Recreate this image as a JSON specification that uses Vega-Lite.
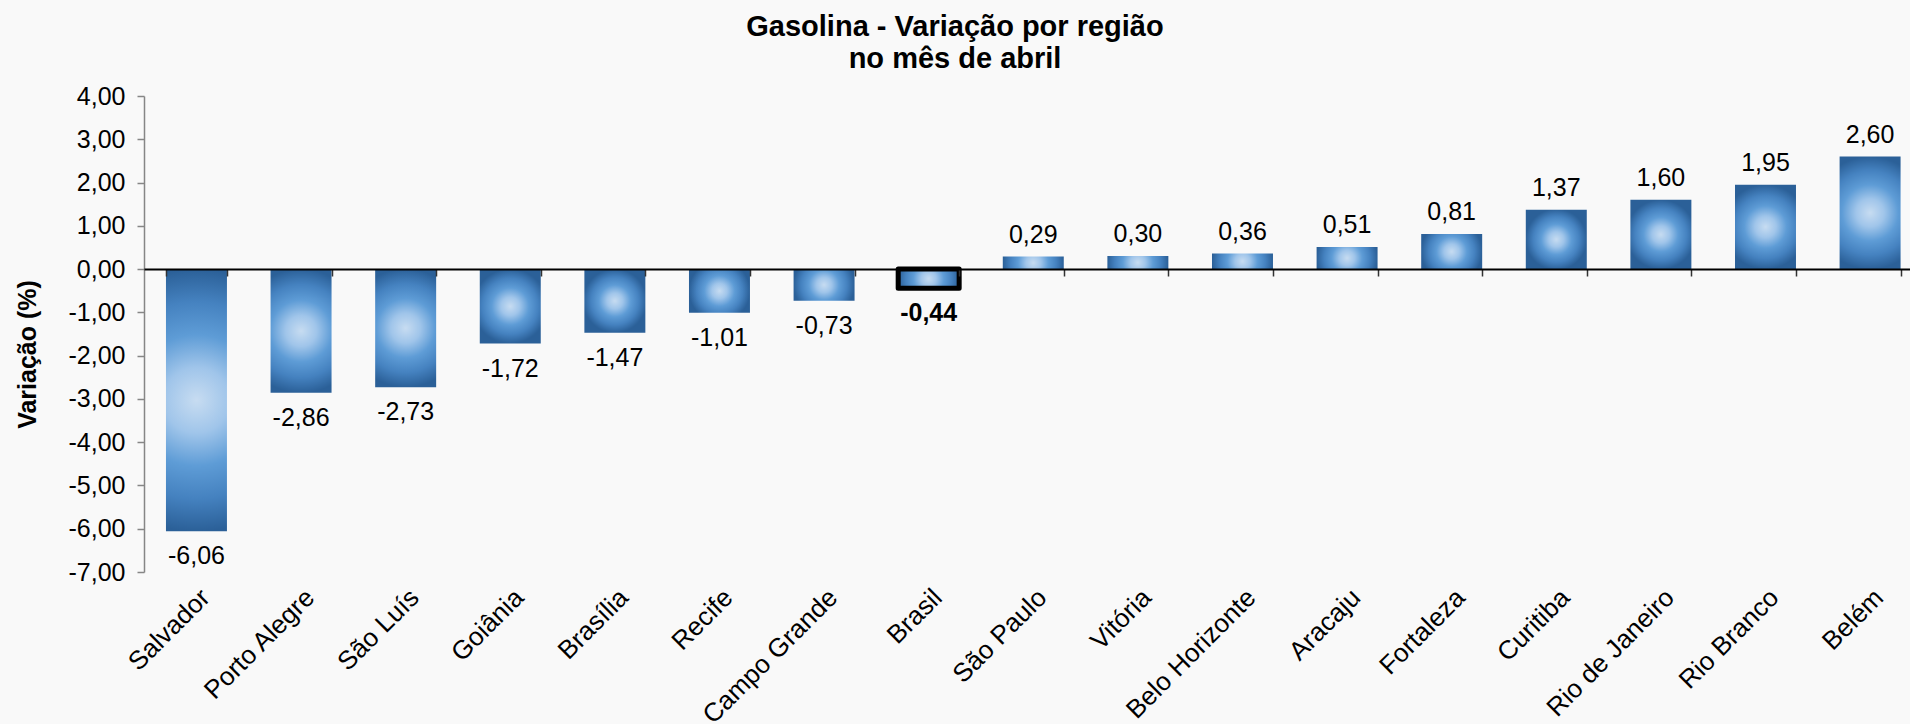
{
  "$schema": "https://vega.github.io/schema/vega-lite/v6.json",
  "autosize": {"type": "none"},
  "padding": {"left": 144, "top": 96, "right": 0, "bottom": 152},
  "width": 1766,
  "height": 476,
  "background": "#f9f9f9",
  "title": {
    "text": ["Gasolina - Variação por região", "no mês de abril"],
    "fontSize": 29,
    "fontWeight": "bold",
    "font": "Liberation Sans",
    "color": "#000000",
    "lineHeight": 32,
    "anchor": "middle",
    "dx": -72,
    "offset": 10
  },
  "data": {
    "values": [
      {"city": "Salvador", "value": -6.06},
      {"city": "Porto Alegre", "value": -2.86},
      {"city": "São Luís", "value": -2.73},
      {"city": "Goiânia", "value": -1.72},
      {"city": "Brasília", "value": -1.47},
      {"city": "Recife", "value": -1.01},
      {"city": "Campo Grande", "value": -0.73},
      {"city": "Brasil", "value": -0.44},
      {"city": "São Paulo", "value": 0.29},
      {"city": "Vitória", "value": 0.30},
      {"city": "Belo Horizonte", "value": 0.36},
      {"city": "Aracaju", "value": 0.51},
      {"city": "Fortaleza", "value": 0.81},
      {"city": "Curitiba", "value": 1.37},
      {"city": "Rio de Janeiro", "value": 1.60},
      {"city": "Rio Branco", "value": 1.95},
      {"city": "Belém", "value": 2.60}
    ]
  },
  "encoding": {
    "y": {
      "field": "value",
      "type": "quantitative",
      "scale": {"domain": [-7, 4], "nice": false},
      "axis": {
        "values": [-7, -6, -5, -4, -3, -2, -1, 0, 1, 2, 3, 4],
        "format": ".2f",
        "grid": false,
        "labelFontSize": 25,
        "labelFont": "Liberation Sans",
        "labelColor": "#000000",
        "labelPadding": 12,
        "domainColor": "#868686",
        "domainWidth": 1.5,
        "tickColor": "#868686",
        "tickWidth": 1.5,
        "tickSize": 7,
        "title": "Variação (%)",
        "titleFont": "Liberation Sans",
        "titleFontSize": 25,
        "titleFontWeight": "bold",
        "titleColor": "#000000",
        "titlePadding": 28,
        "titleY": 258
      }
    }
  },
  "layer": [
    {
      "mark": {
        "type": "bar",
        "strokeJoin": "round",
        "fill": {
          "gradient": "radial",
          "x1": 0.5, "y1": 0.5, "r1": 0,
          "x2": 0.5, "y2": 0.5, "r2": 0.5,
          "stops": [
            {"offset": 0, "color": "#c7dcf1"},
            {"offset": 0.25, "color": "#a0c5ea"},
            {"offset": 0.5, "color": "#5e9cd6"},
            {"offset": 0.75, "color": "#4582c0"},
            {"offset": 1, "color": "#2b6098"}
          ]
        }
      },
      "encoding": {
        "x": {
          "field": "city",
          "type": "nominal",
          "sort": null,
          "scale": {"paddingInner": 0.417, "paddingOuter": 0.15, "align": 0.7},
          "axis": {
            "orient": "bottom",
            "title": null,
            "labelAngle": -45,
            "labelFontSize": 26,
            "labelFont": "Liberation Sans",
            "labelColor": "#000000",
            "labelPadding": 12,
            "domain": false,
            "ticks": false
          }
        },
        "stroke": {"condition": {"test": "datum.city === 'Brasil'", "value": "#000000"}, "value": null},
        "strokeWidth": {"condition": {"test": "datum.city === 'Brasil'", "value": 5}, "value": 0}
      }
    },
    {
      "transform": [{"filter": "datum.value > 0"}],
      "mark": {"type": "text", "baseline": "alphabetic", "dy": -14, "fontSize": 25, "font": "Liberation Sans", "color": "#000000"},
      "encoding": {
        "x": {
          "field": "city",
          "type": "nominal",
          "sort": null,
          "axis": {
            "orient": "bottom",
            "offset": -303,
            "title": null,
            "labels": false,
            "domain": true,
            "domainColor": "#000000",
            "domainWidth": 2,
            "ticks": true,
            "tickBand": "extent",
            "tickSize": 7,
            "tickColor": "#333333",
            "tickWidth": 1.5,
            "zindex": 1
          }
        },
        "text": {"field": "value", "type": "quantitative", "format": ".2f"}
      }
    },
    {
      "transform": [{"filter": "datum.value < 0 && datum.city !== 'Brasil'"}],
      "mark": {"type": "text", "baseline": "top", "dy": 13, "fontSize": 25, "font": "Liberation Sans", "color": "#000000"},
      "encoding": {
        "x": {"field": "city", "type": "nominal", "sort": null, "axis": null},
        "text": {"field": "value", "type": "quantitative", "format": ".2f"}
      }
    },
    {
      "transform": [{"filter": "datum.city === 'Brasil'"}],
      "mark": {"type": "text", "baseline": "top", "dy": 13, "fontSize": 25, "fontWeight": "bold", "font": "Liberation Sans", "color": "#000000"},
      "encoding": {
        "x": {"field": "city", "type": "nominal", "sort": null, "axis": null},
        "text": {"field": "value", "type": "quantitative", "format": ".2f"}
      }
    }
  ],
  "resolve": {"axis": {"x": "independent"}},
  "config": {
    "view": {"stroke": null},
    "font": "Liberation Sans",
    "locale": {
      "number": {"decimal": ",", "thousands": ".", "grouping": [3], "currency": ["", ""], "minus": "-"}
    }
  }
}
